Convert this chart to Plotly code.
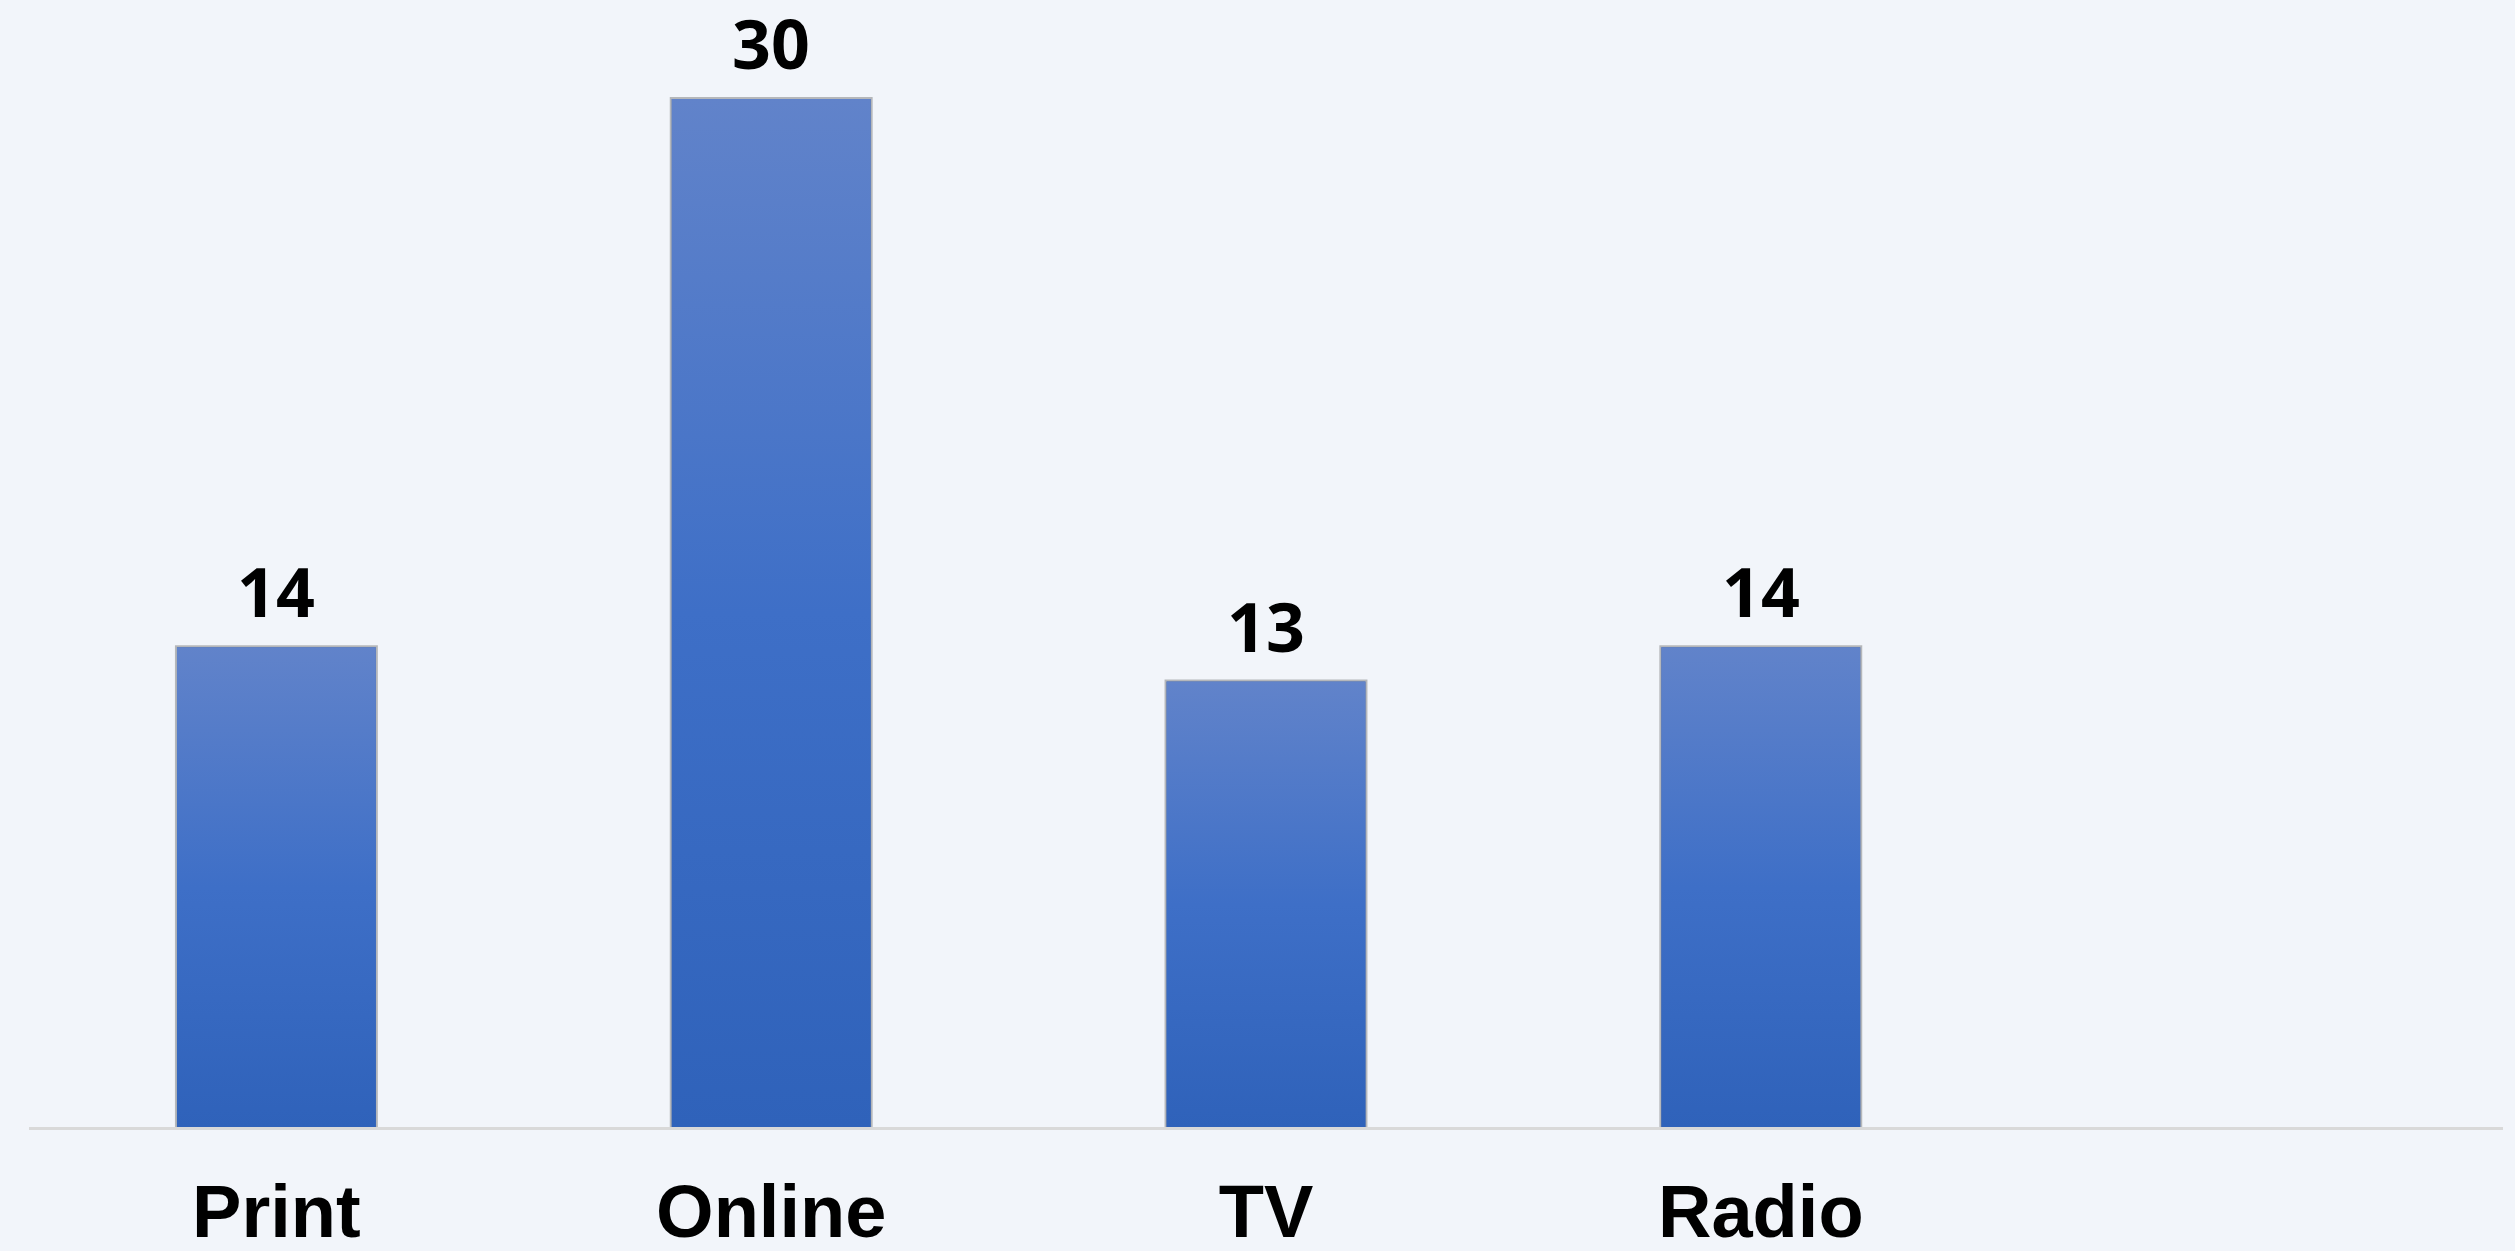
import plotly.graph_objects as go

categories = ["Print", "Online", "TV", "Radio", ""]
values = [14, 30, 13, 14]

bar_width = 0.402
bg = "#F2F5FA"
grad = [[0, "#2F62BA"], [0.5, "#3E6FC7"], [1, "#6183CA"]]

fig = go.Figure()

xs = list(range(len(values)))
fig.add_trace(go.Bar(
    x=xs, y=values, width=bar_width,
    marker=dict(color="#4270C4", line=dict(color="rgba(90,90,90,0.4)", width=4)),
    hoverinfo="skip", showlegend=False,
))

# gradient overlay for each bar (built from the same values)
for i, v in enumerate(values):
    x0, x1 = i - bar_width / 2, i + bar_width / 2
    fig.add_trace(go.Scatter(
        x=[x0, x0, x1, x1, x0], y=[0, v, v, 0, 0],
        fill="toself", mode="lines", line=dict(width=0),
        fillgradient=dict(type="vertical", colorscale=grad),
        hoverinfo="skip", showlegend=False,
    ))

for i, v in enumerate(values):
    fig.add_annotation(
        x=i, y=v, text=str(v), showarrow=False, yanchor="bottom",
        yshift=8, font=dict(family="Open Sans", size=68, color="black", weight="bold"),
    )

fig.update_layout(
    width=2515, height=1251,
    margin=dict(l=29, r=12, t=0, b=124),
    paper_bgcolor=bg, plot_bgcolor=bg,
    xaxis=dict(
        range=[-0.5, len(categories) - 0.5],
        tickvals=list(range(len(categories))), ticktext=categories,
        showgrid=False, zeroline=False, showline=True,
        linecolor="#D9D9D9", linewidth=2.5, ticks="",
        ticklabelstandoff=18, automargin=False,
        tickfont=dict(family="Liberation Sans", size=74, color="black", weight="bold"),
    ),
    yaxis=dict(range=[0, 32.89], visible=False, showgrid=False, zeroline=False,
               automargin=False),
)

fig.write_html("out.html", post_script="document.body.style.margin='0';",
               config={"displayModeBar": False})
